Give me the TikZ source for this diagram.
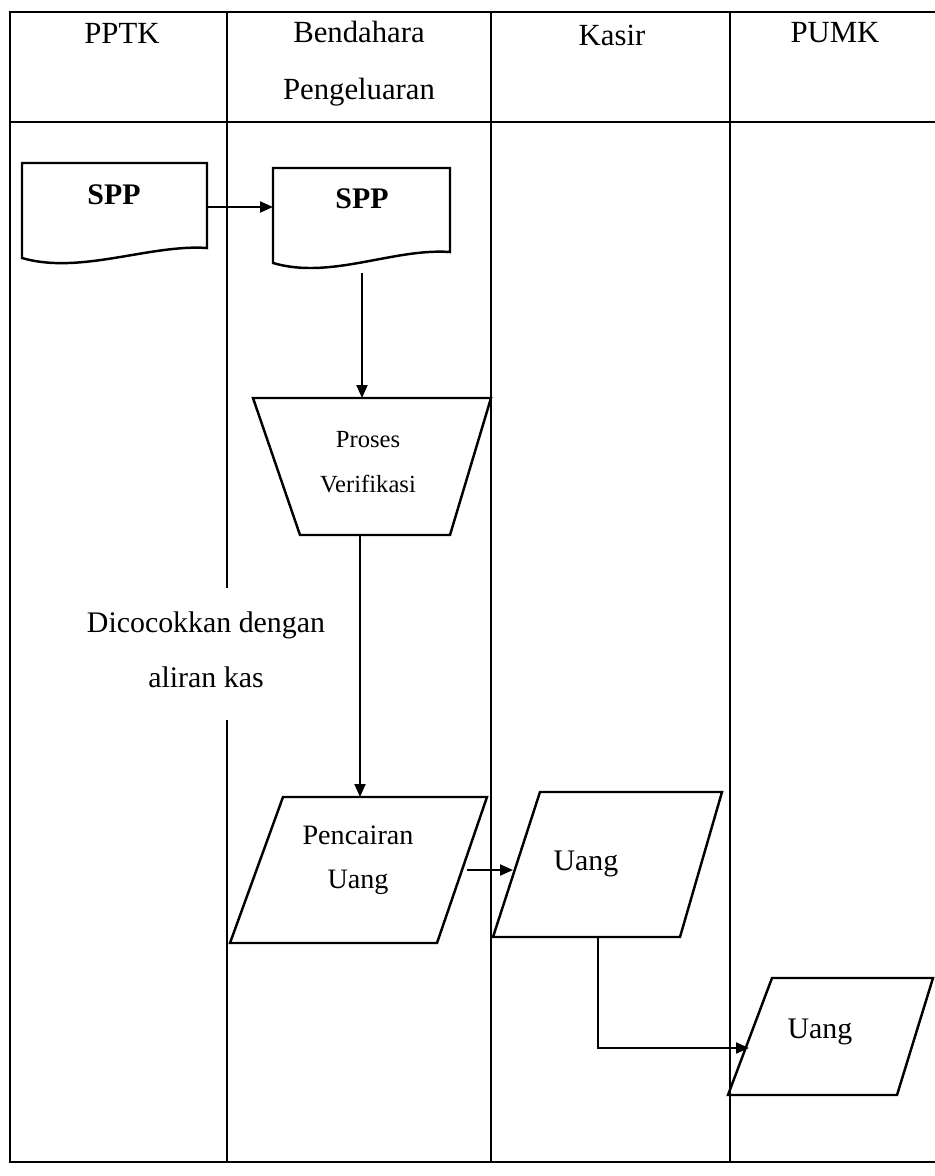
\documentclass[tikz,border=0pt]{standalone}
\usepackage{fontspec}
\setmainfont{Liberation Serif}
\usetikzlibrary{arrows.meta}

\begin{document}
\begin{tikzpicture}[x=0.2mm,y=-0.2mm,line width=1.4pt,>={Triangle[length=2.6mm,width=2.2mm]},
  head/.style={font=\fontsize{17.5}{32.5}\selectfont,align=center,inner sep=0pt},
  txt/.style={font=\fontsize{17}{31}\selectfont,align=center,inner sep=0pt},
  doc/.style={font=\fontsize{17}{31}\selectfont\bfseries,inner sep=0pt},
  small/.style={font=\fontsize{14}{25.5}\selectfont,align=center,inner sep=0pt},
  flow/.style={->,line width=1.2pt}]
\useasboundingbox (0,0) rectangle (935,1176);
% swimlanes
\draw (935,12)--(10,12)--(10,1162)--(935,1162); \draw (10,122)--(935,122);
\draw (227,12)--(227,588); \draw (227,720)--(227,1162);
\draw (491,12)--(491,1162); \draw (730,12)--(730,1162);
\node[head] (pptk) at (122,33) {PPTK};
\node[head] (bendahara) at (359,64) {Bendahara\\Pengeluaran};
\node[head] (kasir) at (612,35) {Kasir};
\node[head] (pumk) at (835,33) {PUMK};
% SPP di PPTK
\draw (22,163)--(207,163)--(207,248) .. controls (150,244) and (80,275) .. (22,258)--cycle;
\node[doc] (spp1) at (114,195) {SPP};
% SPP di Bendahara
\draw (273,168)--(450,168)--(450,252) .. controls (393,248) and (331,280) .. (273,263)--cycle;
\node[doc] (spp2) at (362,199) {SPP};
% proses verifikasi
\draw (253,398)--(491,398)--(450,535)--(300,535)--cycle;
\node[small] (verif) at (368,462) {Proses\\Verifikasi};
\node[txt] (cocok) at (206,650) {Dicocokkan dengan\\aliran kas};
% pencairan uang
\draw (283,797)--(487,797)--(437,943)--(230,943)--cycle;
\node[txt,font=\fontsize{16}{25}\selectfont] (cair) at (358,860) {Pencairan\\Uang};
% uang kasir
\draw (540,792)--(722,792)--(680,937)--(493,937)--cycle;
\node[txt] (uang1) at (586,864) {Uang};
% uang PUMK
\draw (772,978)--(933,978)--(897,1095)--(728,1095)--cycle;
\node[txt] (uang2) at (820,1032) {Uang};
% connectors
\coordinate (spp1-e) at (207,207); \coordinate (spp2-w) at (273,207);
\coordinate (spp2-s) at (362,273); \coordinate (verif-n) at (362,398);
\coordinate (verif-s) at (360,535); \coordinate (cair-n) at (360,797);
\coordinate (cair-e) at (467,870); \coordinate (uang1-w) at (513,870);
\coordinate (uang1-s) at (598,937); \coordinate (belok) at (598,1048); \coordinate (uang2-w) at (749,1048);
\draw[flow] (spp1-e)--(spp2-w);
\draw[flow] (spp2-s)--(verif-n);
\draw[flow] (verif-s)--(cair-n);
\draw[flow] (cair-e)--(uang1-w);
\draw[flow] (uang1-s)--(belok)--(uang2-w);
\end{tikzpicture}
\end{document}
